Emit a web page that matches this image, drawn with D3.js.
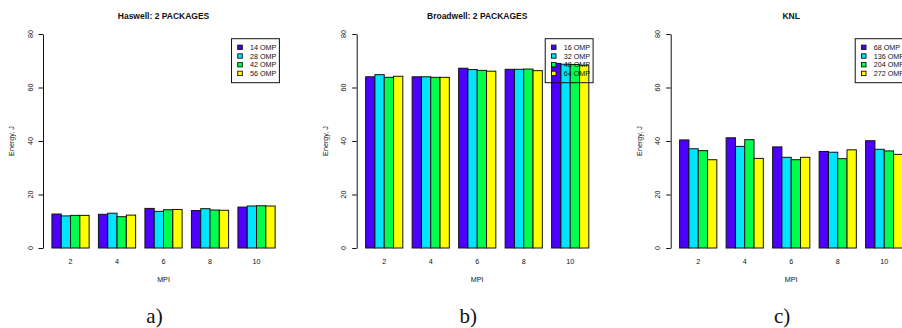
<!DOCTYPE html>
<html>
<head>
<meta charset="utf-8">
<script src="https://cdn.jsdelivr.net/npm/d3@7"></script>
<style>
  html, body { margin: 0; padding: 0; background: #fff; }
  svg { display: block; }
  text { font-family: "Liberation Sans", Arial, sans-serif; fill: #111; }
</style>
</head>
<body>
<svg id="chart" width="902" height="328"></svg>
<script>
// MPI ranks on the x axis (grouped bars)
const mpi = ["2", "4", "6", "8", "10"];

// Panel titles and sub-figure captions
const titles = ["Haswell: 2 PACKAGES", "Broadwell: 2 PACKAGES", "KNL"];
const captions = ["a)", "b)", "c)"];

// OpenMP thread counts per machine (legend entries)
const haswellOmp = ["14 OMP", "28 OMP", "42 OMP", "56 OMP"];
const broadwellOmp = ["16 OMP", "32 OMP", "48 OMP", "64 OMP"];
const knlOmp = ["68 OMP", "136 OMP", "204 OMP", "272 OMP"];

// Energy (J) per MPI group, one value per OMP setting
const haswellEnergy = [
  [12.7, 12.0, 12.2, 12.2],
  [12.6, 13.0, 11.7, 12.3],
  [14.8, 13.7, 14.3, 14.4],
  [14.0, 14.7, 14.2, 14.1],
  [15.3, 15.7, 15.8, 15.7]
];
const broadwellEnergy = [
  [64.0, 64.8, 63.8, 64.2],
  [64.0, 64.0, 63.8, 63.8],
  [67.2, 66.7, 66.4, 66.1],
  [66.8, 66.8, 66.9, 66.3],
  [69.0, 68.7, 68.6, 68.3]
];
const knlEnergy = [
  [40.4, 37.1, 36.4, 33.0],
  [41.2, 38.0, 40.5, 33.5],
  [37.8, 33.9, 33.0, 33.9],
  [36.1, 35.8, 33.4, 36.7],
  [40.1, 36.9, 36.3, 35.0]
];

const yTicks = [0, 20, 40, 60, 80];
const colors = ["#4C00FF", "#00E5FF", "#00FF4D", "#FFFF00"]; // topo palette

const panels = [
  { title: titles[0], caption: captions[0], omp: haswellOmp, data: haswellEnergy, left: 43 },
  { title: titles[1], caption: captions[1], omp: broadwellOmp, data: broadwellEnergy, left: 356.7 },
  { title: titles[2], caption: captions[2], omp: knlOmp, data: knlEnergy, left: 670.7 }
];

const svg = d3.select("#chart");
const base = 7.2;           // base font size
const unit = 9.3;           // pixels per bar-width unit
const nSeries = 4;
const groupStride = nSeries + 1; // bars + one bar gap

// x in "bar units": first bar starts at 1, groups every 5 units; domain padded 4%
const xDomain = [0.04, 25.96];
const y = d3.scaleLinear().domain([0, 80]).range([248, 34]);

panels.forEach(p => {
  const g = svg.append("g");
  const x = d3.scaleLinear().domain(xDomain).range([p.left, p.left + (xDomain[1] - xDomain[0]) * unit]);
  const plotRight = x(xDomain[1]);
  const plotMid = (p.left + plotRight) / 2;

  // bars
  p.data.forEach((vals, gi) => {
    vals.forEach((v, si) => {
      const x0 = 1 + gi * groupStride + si;
      g.append("rect")
        .attr("x", x(x0))
        .attr("y", y(v))
        .attr("width", x(x0 + 1) - x(x0))
        .attr("height", y(0) - y(v))
        .attr("fill", colors[si])
        .attr("stroke", "#111")
        .attr("stroke-width", 1);
    });
  });

  // y axis
  const axis = d3.axisLeft(y).tickValues(yTicks).tickSize(4.5).tickSizeOuter(0).tickFormat(d3.format("d"));
  const ag = g.append("g").attr("transform", `translate(${p.left},0)`).call(axis);
  ag.select(".domain").attr("stroke", "#111");
  ag.selectAll(".tick line").attr("stroke", "#111");
  ag.selectAll(".tick text").remove();
  yTicks.forEach(t => {
    g.append("text")
      .attr("transform", `translate(${p.left - 10.5},${y(t)}) rotate(-90)`)
      .attr("text-anchor", "middle")
      .attr("font-size", base)
      .text(t);
  });

  // y axis title
  g.append("text")
    .attr("transform", `translate(${p.left - 29},141) rotate(-90)`)
    .attr("text-anchor", "middle")
    .attr("font-size", base)
    .text("Energy, J");

  // group labels
  mpi.forEach((m, gi) => {
    g.append("text")
      .attr("x", x(1 + gi * groupStride + nSeries / 2))
      .attr("y", 264.2)
      .attr("text-anchor", "middle")
      .attr("font-size", base)
      .text(m);
  });

  // x axis title
  g.append("text")
    .attr("x", plotMid)
    .attr("y", 281.8)
    .attr("text-anchor", "middle")
    .attr("font-size", base)
    .text("MPI");

  // panel title
  g.append("text")
    .attr("x", plotMid)
    .attr("y", 18.6)
    .attr("text-anchor", "middle")
    .attr("font-size", 8.5)
    .attr("font-weight", "bold")
    .text(p.title);

  // legend (top right, transparent background)
  const lg = g.append("g");
  const labels = p.omp.map(s => lg.append("text").attr("font-size", base).text(s));
  const maxW = d3.max(labels, t => t.node().getComputedTextLength());
  const boxRight = p.left + 236.4;
  const boxW = maxW + 18.5 + 3;
  const boxLeft = boxRight - boxW;
  const boxTop = 38.7, rowH = 8.7;
  lg.insert("rect", ":first-child")
    .attr("x", boxLeft).attr("y", boxTop)
    .attr("width", boxW).attr("height", 44)
    .attr("fill", "none").attr("stroke", "#111").attr("stroke-width", 1);
  labels.forEach((t, i) => {
    const cy = 47.3 + i * rowH;
    t.attr("x", boxLeft + 18.5).attr("y", cy + 2.6);
    lg.append("rect")
      .attr("x", boxLeft + 6.2).attr("y", cy - 2.2)
      .attr("width", 4.6).attr("height", 4.4)
      .attr("fill", colors[i]).attr("stroke", "#111").attr("stroke-width", 0.9);
  });

  // sub-figure caption
  svg.append("text")
    .attr("x", p.left + 111.5)
    .attr("y", 322.5)
    .attr("text-anchor", "middle")
    .attr("font-size", 21)
    .style("font-family", "'Liberation Serif', 'DejaVu Serif', serif")
    .text(p.caption);
});
</script>
</body>
</html>
